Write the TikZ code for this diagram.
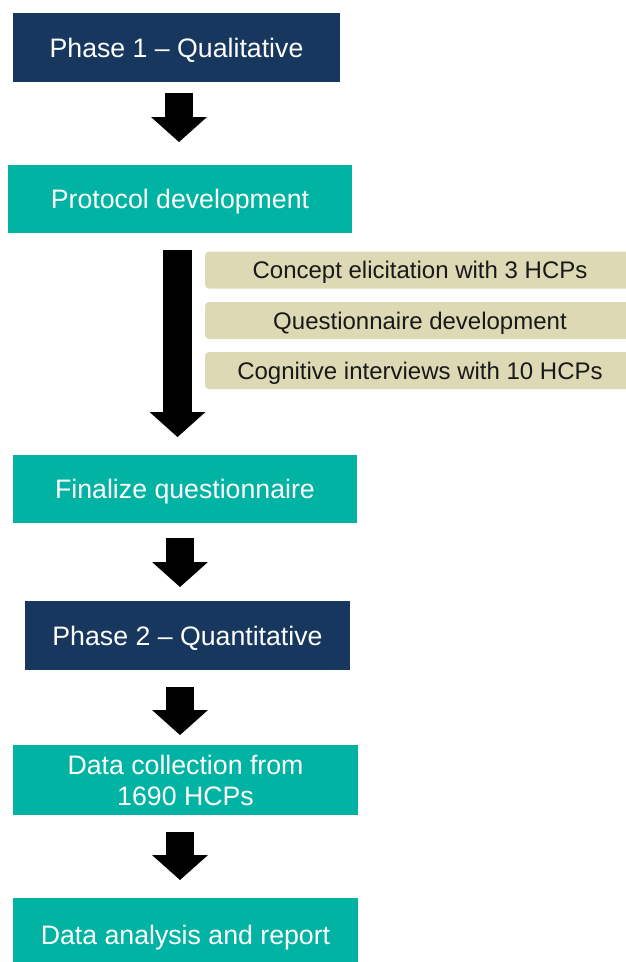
\documentclass[tikz,border=0pt]{standalone}
\usepackage{fontspec}
\setmainfont{Liberation Sans}
\usetikzlibrary{arrows.meta}

\definecolor{phasenavy}{HTML}{17375E}
\definecolor{stepteal}{HTML}{00B3A3}
\definecolor{taskbeige}{HTML}{DDD9B4}

\tikzset{
    phasebox/.style={fill=phasenavy, text=white, inner sep=0pt, minimum height=69pt,
        text height=19pt, text depth=0pt, font=\fontsize{26.7}{31}\selectfont},
    stepbox/.style={fill=stepteal, text=white, inner sep=0pt, minimum height=68pt,
        text height=19pt, text depth=0pt, font=\fontsize{26.7}{31}\selectfont},
    taskbox/.style={fill=taskbeige, text=black!90, inner sep=0pt, rounded corners=4pt,
        minimum width=430pt, minimum height=37pt, text height=17pt, text depth=0pt,
        font=\fontsize{24}{28}\selectfont},
    fatarrow/.style={line width=28pt, -{Triangle[width=56pt,length=25pt,line width=0pt]}}
}

\begin{document}
\begin{tikzpicture}[x=1pt,y=-1pt]
        \useasboundingbox (0,0) rectangle (626,962);

        % phase 1
        \node[phasebox, minimum width=327pt] (qual) at (176.5, 47.5) {Phase 1 -- Qualitative};
        \node[stepbox, minimum width=344pt] (proto) at (180, 198.5) {Protocol development};

        % qualitative tasks
        \node[taskbox] (elicit) at (420, 270) {Concept elicitation with 3 HCPs};
        \node[taskbox] (quest) at (420, 320.5) {Questionnaire development};
        \node[taskbox] (cogint) at (420, 370.5) {Cognitive interviews with 10 HCPs};

        \node[stepbox, minimum width=344pt] (final) at (185, 489) {Finalize questionnaire};

        % phase 2
        \node[phasebox, minimum width=325pt] (quant) at (187.5, 635.5) {Phase 2 -- Quantitative};
        \node[stepbox, minimum width=345pt, minimum height=70pt, text height=, text depth=,
              align=center] (collect) at (185.5, 780) {Data collection from\\1690 HCPs};
        \node[stepbox, minimum width=345pt, minimum height=74pt] (report) at (185.5, 935) {Data analysis and report};

        % arrows between the boxes
        \coordinate (a1s) at (179, 93);
        \coordinate (a1e) at (179, 142);
        \coordinate (a2s) at (177.5, 250);
        \coordinate (a2e) at (177.5, 437);
        \coordinate (a3s) at (180, 538);
        \coordinate (a3e) at (180, 587);
        \coordinate (a4s) at (180, 687);
        \coordinate (a4e) at (180, 735);
        \coordinate (a5s) at (180, 832);
        \coordinate (a5e) at (180, 880);

        \draw[fatarrow] (a1s) -- (a1e);
        \draw[fatarrow, line width=29pt] (a2s) -- (a2e);
        \draw[fatarrow] (a3s) -- (a3e);
        \draw[fatarrow] (a4s) -- (a4e);
        \draw[fatarrow] (a5s) -- (a5e);

    \end{tikzpicture}
\end{document}
